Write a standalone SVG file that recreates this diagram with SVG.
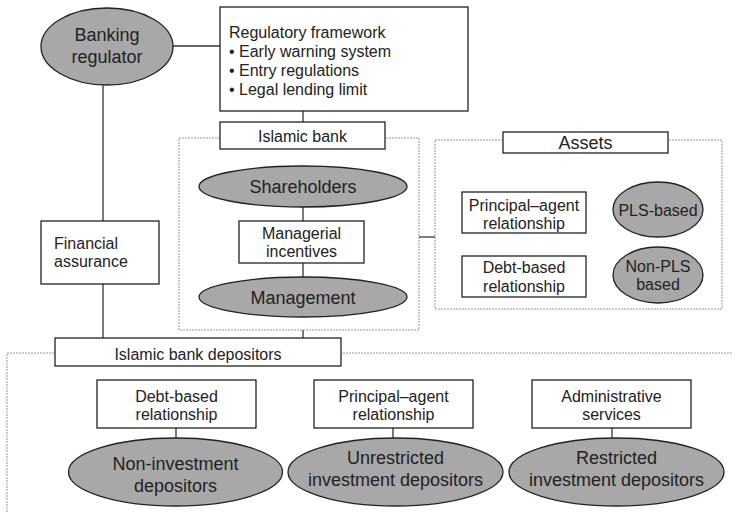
<svg xmlns="http://www.w3.org/2000/svg" width="734" height="512" viewBox="0 0 734 512">
<style>
.box{fill:#fff;stroke:#222;stroke-width:1.3}
.ell{fill:#a8a8a8;stroke:#222;stroke-width:1.3}
.ln{fill:none;stroke:#333;stroke-width:1.3}
.dot{fill:none;stroke:#999;stroke-width:1;stroke-dasharray:2 1}
text{font-family:"Liberation Sans",Arial,sans-serif;fill:#222}
.t16{font-size:16px}
.t18{font-size:18px}
.c{text-anchor:middle}
</style>
<rect width="734" height="512" fill="#fff"/>
<g id="groups">
<rect class="dot" x="179" y="138" width="240" height="192"/>
<rect class="dot" x="435" y="140" width="287" height="169"/>
<polyline class="dot" points="7,512 7,353 733,353"/>
</g>
<g id="connectors">
<line class="ln" x1="173" y1="46" x2="220" y2="46"/>
<line class="ln" x1="303" y1="111" x2="303" y2="122"/>
<line class="ln" x1="103" y1="85" x2="103" y2="221"/>
<line class="ln" x1="103" y1="284" x2="103" y2="338"/>
<line class="ln" x1="303" y1="207" x2="303" y2="221"/>
<line class="ln" x1="303" y1="263" x2="303" y2="277"/>
<line class="ln" x1="303" y1="330" x2="303" y2="338"/>
<line class="ln" x1="419" y1="237" x2="435" y2="237"/>
<line class="ln" x1="176" y1="428" x2="176" y2="439"/>
<line class="ln" x1="393" y1="428" x2="393" y2="439"/>
<line class="ln" x1="612" y1="428" x2="612" y2="439"/>
</g>
<g id="banking-regulator">
<ellipse class="ell" cx="107" cy="46.5" rx="66" ry="38.5"/>
<text class="t18 c" x="107" y="41">Banking</text>
<text class="t18 c" x="107" y="63">regulator</text>
</g>
<g id="regulatory-framework">
<rect class="box" x="220" y="7" width="248" height="104"/>
<text class="t16" x="229" y="38">Regulatory framework</text>
<text class="t16" x="229" y="57">• Early warning system</text>
<text class="t16" x="229" y="76">• Entry regulations</text>
<text class="t16" x="229" y="95">• Legal lending limit</text>
</g>
<g id="islamic-bank">
<rect class="box" x="220" y="122" width="165" height="27"/>
<text class="t16 c" x="302.5" y="142">Islamic bank</text>
</g>
<g id="shareholders">
<ellipse class="ell" cx="303" cy="186.5" rx="104" ry="20.5"/>
<text class="t18 c" x="303" y="193">Shareholders</text>
</g>
<g id="managerial-incentives">
<rect class="box" x="239" y="221" width="125" height="42"/>
<text class="t16 c" x="301.5" y="239">Managerial</text>
<text class="t16 c" x="301.5" y="257">incentives</text>
</g>
<g id="management">
<ellipse class="ell" cx="303" cy="297" rx="104" ry="20"/>
<text class="t18 c" x="303" y="303.5">Management</text>
</g>
<g id="financial-assurance">
<rect class="box" x="41" y="221" width="118" height="63"/>
<text class="t16" x="54" y="249">Financial</text>
<text class="t16" x="54" y="267">assurance</text>
</g>
<g id="assets">
<rect class="box" x="503" y="132" width="165" height="21"/>
<text class="t18 c" x="585.5" y="149">Assets</text>
</g>
<g id="assets-principal-agent">
<rect class="box" x="462" y="192" width="124" height="41"/>
<text class="t16 c" x="524" y="211">Principal–agent</text>
<text class="t16 c" x="524" y="228.5">relationship</text>
</g>
<g id="assets-debt-based">
<rect class="box" x="462" y="256" width="124" height="41"/>
<text class="t16 c" x="524" y="273">Debt-based</text>
<text class="t16 c" x="524" y="291.5">relationship</text>
</g>
<g id="pls-based">
<ellipse class="ell" cx="658" cy="209.5" rx="45" ry="27.5"/>
<text class="t16 c" x="658" y="216">PLS-based</text>
</g>
<g id="non-pls-based">
<ellipse class="ell" cx="658" cy="275" rx="45" ry="28"/>
<text class="t16 c" x="658" y="271.5">Non-PLS</text>
<text class="t16 c" x="658" y="290">based</text>
</g>
<g id="islamic-bank-depositors">
<rect class="box" x="55" y="338" width="286" height="28"/>
<text class="t16 c" x="198" y="360">Islamic bank depositors</text>
</g>
<g id="dep-debt-based">
<rect class="box" x="97" y="380" width="159" height="48"/>
<text class="t16 c" x="176.5" y="402">Debt-based</text>
<text class="t16 c" x="176.5" y="420">relationship</text>
</g>
<g id="dep-principal-agent">
<rect class="box" x="314" y="380" width="159" height="48"/>
<text class="t16 c" x="393.5" y="402">Principal–agent</text>
<text class="t16 c" x="393.5" y="420">relationship</text>
</g>
<g id="administrative-services">
<rect class="box" x="532" y="380" width="159" height="48"/>
<text class="t16 c" x="611.5" y="402">Administrative</text>
<text class="t16 c" x="611.5" y="420">services</text>
</g>
<g id="non-investment-depositors">
<ellipse class="ell" cx="175.5" cy="472" rx="107" ry="34"/>
<text class="t18 c" x="175.5" y="470">Non-investment</text>
<text class="t18 c" x="175.5" y="492">depositors</text>
</g>
<g id="unrestricted-investment-depositors">
<ellipse class="ell" cx="395.5" cy="472" rx="107.5" ry="34"/>
<text class="t18 c" x="395.5" y="463.5">Unrestricted</text>
<text class="t18 c" x="395.5" y="486">investment depositors</text>
</g>
<g id="restricted-investment-depositors">
<ellipse class="ell" cx="616.5" cy="472" rx="107.5" ry="34"/>
<text class="t18 c" x="616.5" y="463.5">Restricted</text>
<text class="t18 c" x="616.5" y="486">investment depositors</text>
</g>
</svg>
